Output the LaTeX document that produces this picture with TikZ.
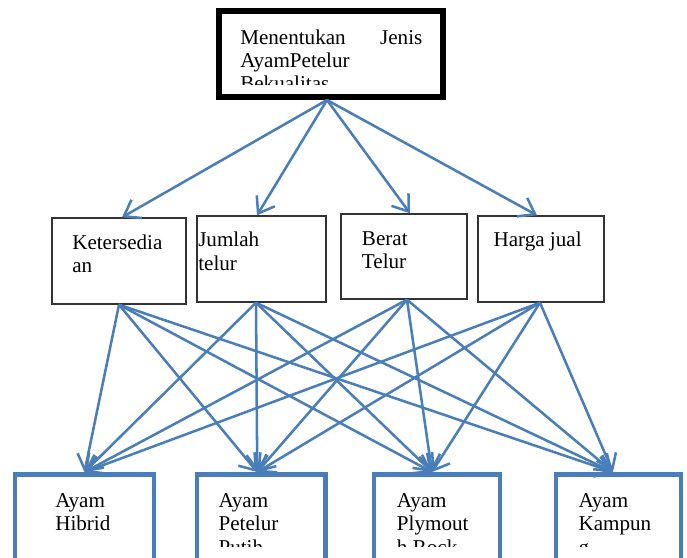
\documentclass[tikz,border=0pt]{standalone}
\usepackage{fontspec}
\setmainfont{Liberation Serif}
\usetikzlibrary{calc}
\usetikzlibrary{arrows.meta}
\definecolor{lineblue}{RGB}{74,126,187}
\providecommand\pxu{0.025cm}

\begin{document}
\begin{tikzpicture}[%
        x = \pxu,
        y = -\pxu,
        goalbox/.style = {draw = black, line width = 4.3pt, inner sep = 0pt},
        critbox/.style = {draw = black!80, line width = 1pt, fill = white, inner sep = 0pt},
        altbox/.style  = {draw = lineblue, line width = 3.5pt, inner sep = 0pt,
                          minimum height = 115*\pxu},
        boxtext/.style = {anchor = north west, inner sep = 0pt, align = left,
                          font = \fontsize{15pt}{16.65pt}\selectfont},
        link/.style    = {draw = lineblue, line width = 1.8pt,
                          -{Straight Barb[length = 10.5pt, width = 15pt]}},
        ]


\useasboundingbox[clip] (0,0) rectangle (687,558);

% goal
\node (goal) [goalbox, minimum width = 224*\pxu, minimum height = 86*\pxu] at (331,54) {};
\begin{scope}
    \clip (222,14) rectangle (440,85);
    \node (goaltext) [boxtext] at (240,27.5)
        {\strut\makebox[4.55cm][s]{Menentukan Jenis}\\AyamPetelur\\Bekualitas};
\end{scope}

% criteria
\node (ke) [critbox, minimum width = 134*\pxu, minimum height = 86*\pxu] at (119,261) {};
\node (ju) [critbox, minimum width = 129*\pxu, minimum height = 86*\pxu] at (261.5,259) {};
\node (be) [critbox, minimum width = 126*\pxu, minimum height = 85*\pxu] at (404,256.5) {};
\node (hj) [critbox, minimum width = 126*\pxu, minimum height = 86*\pxu] at (541,259) {};

\node (ketext) [boxtext] at (72,232.5)    {\strut Ketersedia\\an};
\node (jutext) [boxtext] at (198,230.3)   {\strut Jumlah\\telur};
\node (betext) [boxtext] at (361.7,228.5) {\strut Berat\\Telur};
\node (hjtext) [boxtext] at (493.3,230.3) {\strut Harga jual};

% alternatives
\node (a1) [altbox, minimum width = 139*\pxu]   at (84.5,532) {};
\node (a2) [altbox, minimum width = 128.5*\pxu] at (261.25,532) {};
\node (a3) [altbox, minimum width = 126*\pxu]   at (437,532) {};
\node (a4) [altbox, minimum width = 125*\pxu]   at (618.5,532) {};

\begin{scope}
    \clip (0,474) rectangle (687,546.7);
    \node (a1text) [boxtext] at (55,490.9)    {\strut Ayam\\Hibrid};
    \node (a2text) [boxtext] at (218.3,490.9) {\strut Ayam\\Petelur\\Putih};
    \node (a3text) [boxtext] at (396.7,490.9) {\strut Ayam\\Plymout\\h Rock};
    \node (a4text) [boxtext] at (578.3,490.9) {\strut Ayam\\Kampun\\g};
\end{scope}

\foreach \NODE/\DX in {ke/3,ju/-4.5,be/6,hj/-4}{%
    \draw[link] ($(goal.south)+(-4,0)$) -- ($(\NODE.north)+(\DX,0)$);
    }

\foreach \SRC/\SX in {ke/0,ju/-5.5,be/3,hj/-1}{%
    \foreach \DST/\TX in {a1/0,a2/-4,a3/-5,a4/-5.5}{%
        \draw[link] ($(\SRC.south)+(\SX,0)$) -- ($(\DST.north)+(\TX,0)$);
        }
    }

\end{tikzpicture}
\end{document}
